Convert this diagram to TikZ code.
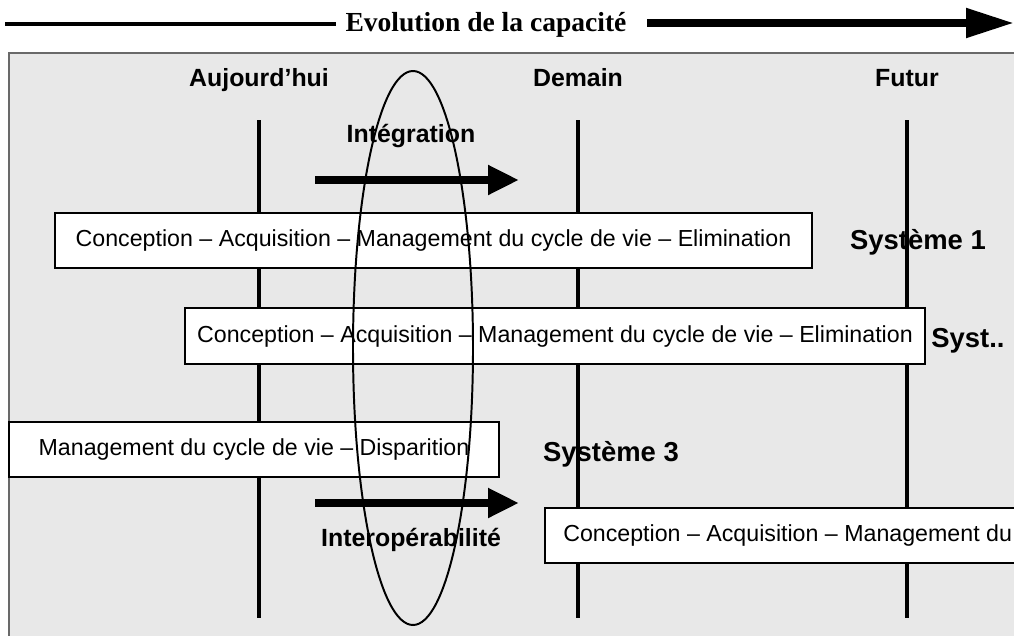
\documentclass[tikz,border=0pt]{standalone}
\usepackage[svgnames]{xcolor}
\usepackage{fontspec}
\setmainfont{Liberation Serif}
\setsansfont{Liberation Sans}
\usetikzlibrary{arrows.meta}
\definecolor{Panel}{HTML}{E8E8E8}
\tikzstyle{none}=[inner sep=0pt]
\tikzstyle{simple}=[-,draw=Black,line width=2.4pt]
\tikzstyle{panel}=[draw=DimGray,fill=Panel,line width=1.4pt]
\tikzstyle{phasebox}=[draw=Black,fill=White,line width=1.4pt]
\tikzstyle{phasetext}=[inner sep=0pt,font=\sffamily\fontsize{16.5}{19}\selectfont]
\tikzstyle{heading}=[inner sep=0pt,anchor=base,font=\sffamily\bfseries\fontsize{17.7}{21}\selectfont]
\tikzstyle{sysname}=[inner sep=0pt,anchor=base,font=\sffamily\bfseries\fontsize{19.5}{23}\selectfont]
\tikzstyle{title}=[inner sep=0pt,font=\rmfamily\bfseries\fontsize{19.6}{22}\selectfont]
\tikzstyle{fat}=[-{Triangle[length=0.775cm,width=0.7cm]},draw=Black,line width=5.7pt]
\tikzstyle{timeline}=[-{Triangle[length=1.2cm,width=0.7cm]},draw=Black,line width=5.7pt]
\tikzstyle{scopering}=[draw=Black,line width=1.4pt]

\begin{document}
\begin{tikzpicture}
  \useasboundingbox (0, 0) rectangle (25.35, -15.875);
  \clip (0, 0) rectangle (25.35, -15.875);
  % panel
  \node [style=none] (5) at (0.225, -1.325) {};
  \node [style=none] (6) at (25.6, -16.1) {};
  \draw [style=panel] (5.center) rectangle (6.center);
  % title
  \node [style=none] (0) at (0.125, -0.6) {};
  \node [style=none] (1) at (8.4, -0.6) {};
  \node [style=title] (2) at (12.15, -0.625) {Evolution de la capacité};
  \node [style=none] (3) at (16.175, -0.575) {};
  \node [style=none] (4) at (25.35, -0.575) {};
  % time lines
  \node [style=heading] (7) at (6.475, -2.15) {Aujourd’hui};
  \node [style=heading] (8) at (14.45, -2.15) {Demain};
  \node [style=heading] (9) at (22.675, -2.15) {Futur};
  \node [style=none] (10) at (6.475, -3) {};
  \node [style=none] (11) at (6.475, -15.45) {};
  \node [style=none] (12) at (14.45, -3) {};
  \node [style=none] (13) at (14.45, -15.45) {};
  \node [style=none] (14) at (22.675, -3) {};
  \node [style=none] (15) at (22.675, -15.45) {};
  % arrows
  \node [style=none] (16) at (7.875, -4.5) {};
  \node [style=none] (17) at (12.975, -4.5) {};
  \node [style=none] (18) at (7.875, -12.575) {};
  \node [style=none] (19) at (12.975, -12.575) {};
  \node [style=heading] (20) at (10.275, -3.55) {Intégration};
  \node [style=heading] (21) at (10.275, -13.65) {Interopérabilité};
  % boxes
  \node [style=none] (22) at (1.375, -5.325) {};
  \node [style=none] (23) at (20.3, -6.7) {};
  \node [style=none] (24) at (4.625, -7.7) {};
  \node [style=none] (25) at (23.125, -9.1) {};
  \node [style=none] (26) at (0.225, -10.55) {};
  \node [style=none] (27) at (12.475, -11.925) {};
  \node [style=none] (28) at (13.625, -12.7) {};
  \node [style=none] (29) at (25.6, -14.075) {};
  \node [style=sysname] (30) at (22.95, -6.225) {Système 1};
  \node [style=sysname] (31) at (24.2, -8.675) {Syst..};
  \node [style=sysname] (32) at (15.275, -11.525) {Système 3};
  \node [style=none] (33) at (10.325, -8.7) {};

  \draw [style=simple, line width=2.8pt] (0.center) to (1.center);
  \draw [style=timeline] (3.center) to (4.center);
  \draw [style=simple] (10.center) to (11.center);
  \draw [style=simple] (12.center) to (13.center);
  \draw [style=simple] (14.center) to (15.center);
  \draw [style=fat] (16.center) to (17.center);
  \draw [style=fat] (18.center) to (19.center);
  \draw [style=phasebox] (22.center) rectangle (23.center);
  \draw [style=phasebox] (24.center) rectangle (25.center);
  \draw [style=phasebox] (26.center) rectangle (27.center);
  \draw [style=phasebox] (28.center) rectangle (29.center);
  \node [style=phasetext] (34) at (10.8375, -6.0125) {Conception – Acquisition – Management du cycle de vie – Elimination};
  \node [style=phasetext] (35) at (13.875, -8.4) {Conception – Acquisition – Management du cycle de vie – Elimination};
  \node [style=phasetext] (36) at (6.35, -11.2375) {Management du cycle de vie – Disparition};
  \node [style=phasetext, anchor=west] (37) at (14.075, -13.3875) {Conception – Acquisition – Management du};
  \draw [style=scopering] (33.center) ellipse (1.5 and 6.925);
\end{tikzpicture}
\end{document}
